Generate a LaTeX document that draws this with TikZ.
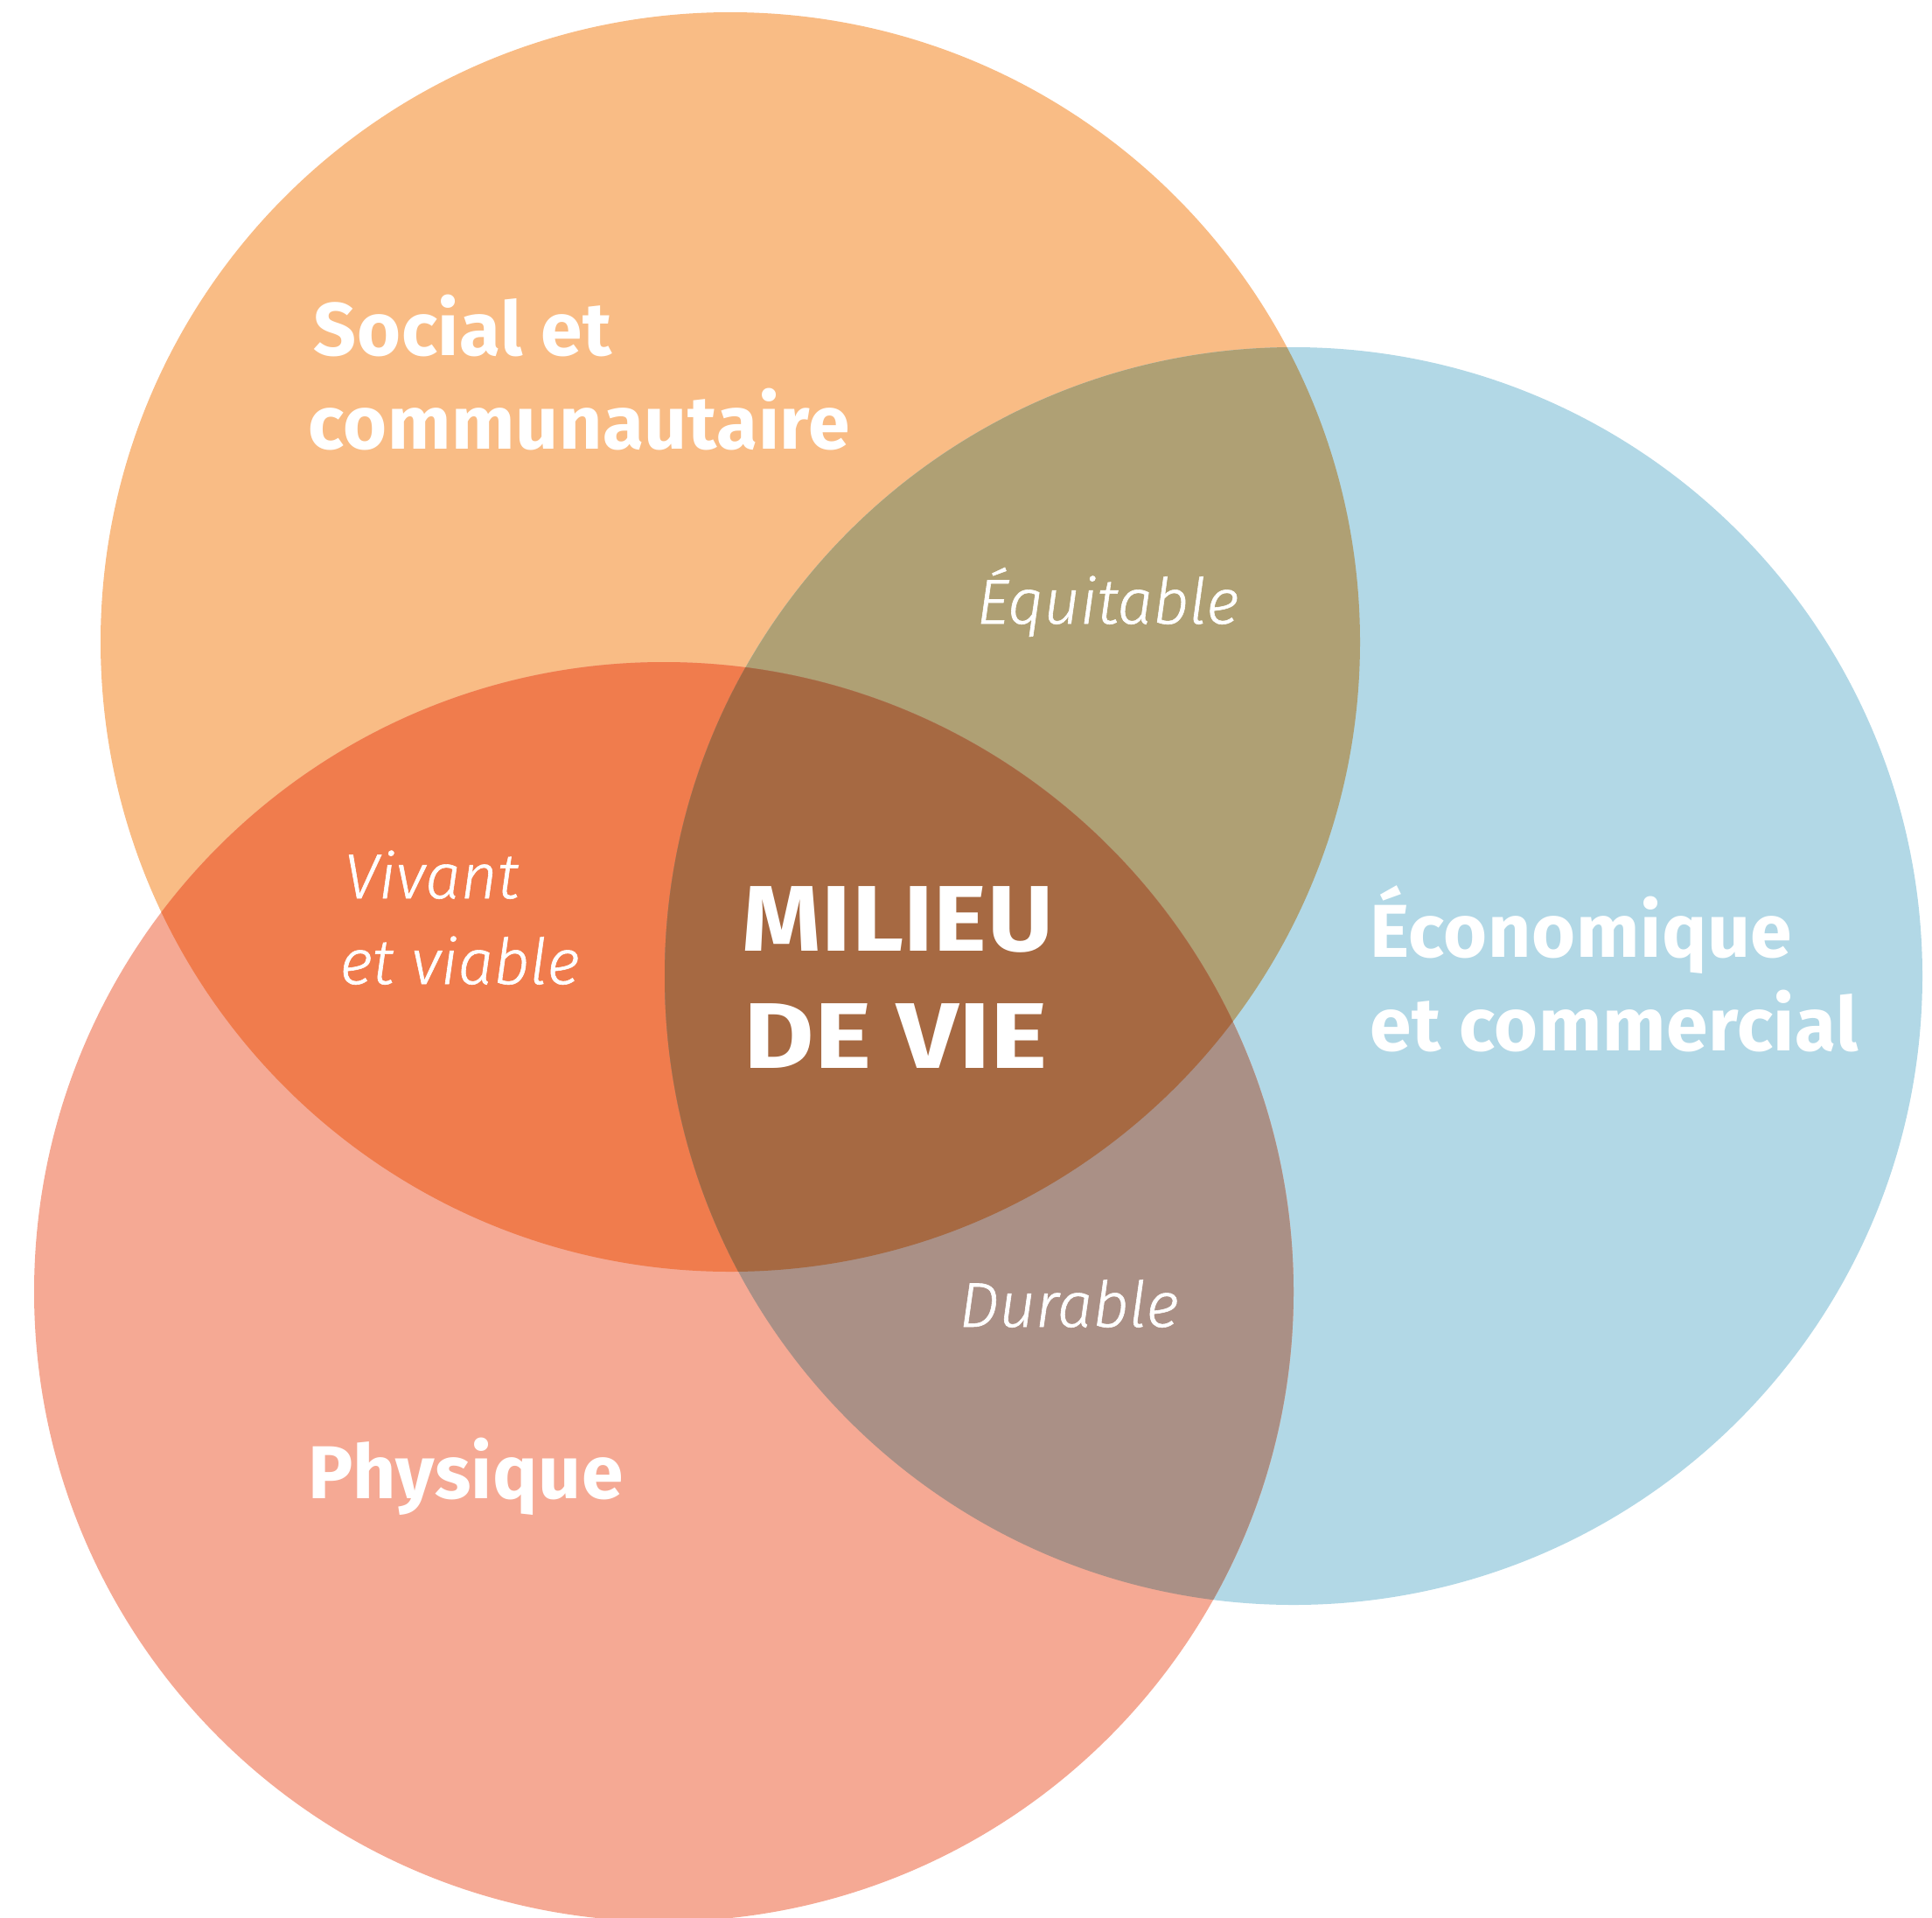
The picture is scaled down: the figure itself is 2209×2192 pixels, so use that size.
\documentclass[tikz,border=0pt]{standalone}
\usepackage{fontspec}
\setmainfont{Fira Sans}
\newfontfamily\itfont{Fira Sans Light Italic}[FakeBold=0.8]
\newfontfamily\lblfont{Fira Sans Bold}[LetterSpace=0.8]
\newfontfamily\bigfont{Fira Sans Bold}[FakeStretch=1.08,LetterSpace=0.5]
\newfontfamily\bigfontw{Fira Sans Bold}[FakeStretch=1.16]
\definecolor{cO}{HTML}{F9BC85}
\definecolor{cB}{HTML}{B2D8E6}
\definecolor{cP}{HTML}{F5A994}
\definecolor{cOB}{HTML}{AFA074}
\definecolor{cOP}{HTML}{F07C4D}
\definecolor{cBP}{HTML}{AA9086}
\definecolor{cOBP}{HTML}{A66942}
\tikzset{
  lbl/.style={anchor=base west, inner sep=0pt, text=white, font=\lblfont\fontsize{25.7}{30}\selectfont},
  ital/.style={anchor=base west, inner sep=0pt, text=white, font=\itfont\fontsize{21.7}{26}\selectfont},
  big/.style={anchor=base west, inner sep=0pt, text=white, font=\bigfont\fontsize{32}{36}\selectfont},
  bigw/.style={anchor=base west, inner sep=0pt, text=white, font=\bigfontw\fontsize{32}{36}\selectfont},
}
\begin{document}
\begin{tikzpicture}[x=0.3pt,y=-0.3pt]
\useasboundingbox (0,0) rectangle (2209,2192);
\begin{scope}
\clip (0,0) rectangle (2209,2192);
\def\circO{(835,734) circle[radius=720]}
\def\circB{(1479,1116) circle[radius=719]}
\def\circP{(759,1477) circle[radius=720]}
\fill[cO] \circO;
\fill[cB] \circB;
\fill[cP] \circP;
\begin{scope}
  \clip \circO;
  \fill[cOB] \circB;
  \fill[cOP] \circP;
  \begin{scope}
    \clip \circB;
    \fill[cOBP] \circP;
  \end{scope}
\end{scope}
\begin{scope}
  \clip \circB;
  \begin{scope}
    \clip \circP;
    \fill[cBP] (0,0) rectangle (2209,2192);
    \clip \circO;
    \fill[cOBP] (0,0) rectangle (2209,2192);
  \end{scope}
\end{scope}
\end{scope}
\node[lbl] (s1) at (358,406) {Social et};
\node[lbl] (s2) at (352,513) {communautaire};
\node[lbl] (e1) at (1566,1094) {Économique};
\node[lbl] (e2) at (1566,1201) {et commercial};
\node[lbl] (ph) at (352,1713) {Physique};
\node[big] (m1) at (848,1087) {MILIEU};
\node[bigw] (m2) at (850,1221) {DE VIE};
\node[ital] (eq) at (1116,713) {Équitable};
\node[ital] (v1) at (393,1027) {Vivant};
\node[ital] (v2) at (388,1125) {et viable};
\node[ital] (du) at (1096,1517) {Durable};
\end{tikzpicture}
\end{document}
